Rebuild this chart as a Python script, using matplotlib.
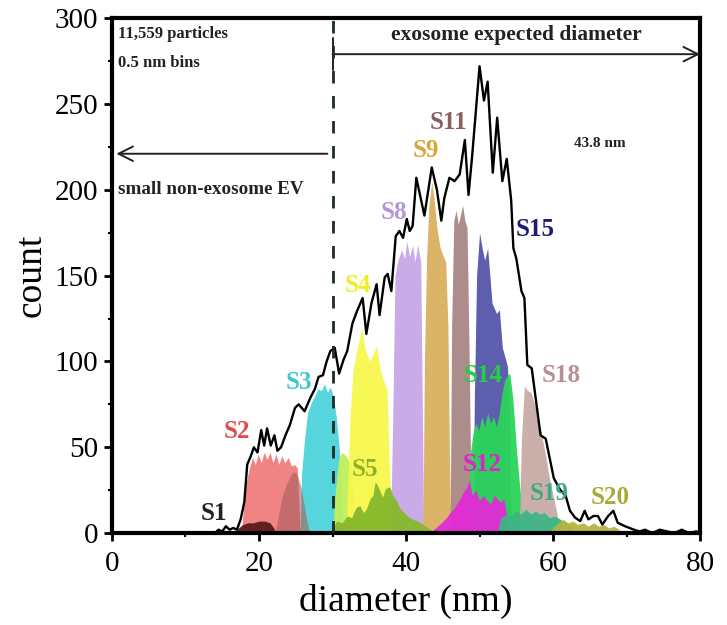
import matplotlib
matplotlib.use("Agg")
import matplotlib.pyplot as plt

plt.rcParams['font.family'] = ['Liberation Serif', 'DejaVu Serif']

# total histogram outline (diameter nm, count)
outline_d = [14.0, 14.5, 15.0, 15.5, 16.0, 16.5, 17.0, 17.5, 18.0, 18.4, 18.9, 19.3, 19.8,
             20.3, 20.7, 21.1, 21.6, 22.1, 22.5, 23.0, 23.6, 24.2, 24.9, 25.4, 26.2, 27.0,
             27.6, 28.1, 28.7, 29.2, 29.7, 30.3, 30.9, 31.5, 32.0, 32.7, 33.3, 34.1, 34.6,
             35.3, 36.0, 36.4, 37.1, 37.5, 38.0, 38.6, 39.1, 39.6, 40.1, 40.5, 40.9, 41.4,
             42.1, 42.5, 43.5, 44.2, 44.8, 45.2, 45.9, 46.6, 47.3, 48.0, 48.5, 49.0, 50.0,
             50.6, 51.1, 51.8, 52.4, 53.1, 53.7, 54.3, 54.6, 55.0, 55.7, 56.1, 56.5, 57.1,
             58.3, 59.0, 60.1, 61.0, 61.7, 62.3, 63.0, 63.7, 64.3, 64.8, 65.5, 66.1, 66.7,
             67.5, 68.2, 68.8, 69.8, 70.4, 71.0, 71.8, 72.5, 73.5, 74.5, 75.5, 76.5, 77.5,
             78.5, 79.5, 80.0]
outline_n = [0, 2, 1, 4, 2, 3, 2, 8, 18, 40, 45, 50, 47,
             60, 51, 61, 51, 57, 48, 50, 57, 63, 73, 75, 71, 79,
             84, 91, 92, 100, 106, 108, 93, 101, 106, 122, 129, 137, 116,
             134, 145, 127, 149, 151, 141, 173, 176, 172, 183, 176, 179, 207,
             193, 185, 213, 200, 182, 195, 207, 205, 209, 229, 197, 220, 272,
             252, 263, 210, 242, 205, 218, 194, 166, 160, 141, 137, 98, 96,
             57, 55, 32, 25, 22, 13, 9, 7, 13, 8, 10, 10, 5,
             10, 13, 6, 4, 3, 2, 1, 2, 0, 2, 1, 0, 2,
             0, 1, 0]

# sub-populations
s1_d = [16.7, 17.2, 17.8, 18.5, 19.2, 20.0, 20.8, 21.5, 22.0, 22.3]
s1_n = [0, 3, 5, 6, 6, 7, 7, 6, 3, 0]

s2_d = [17.6, 17.9, 18.3, 18.7, 19.1, 19.5, 19.9, 20.3, 20.7, 21.1, 21.5, 21.9, 22.3,
        22.7, 23.1, 23.5, 24.0, 24.4, 24.8, 25.2, 25.4, 25.6]
s2_n = [0, 15, 30, 38, 44, 40, 46, 41, 47, 43, 47, 41, 46,
        40, 45, 41, 44, 39, 40, 38, 20, 0]

rose_d = [22.2, 22.7, 23.2, 23.7, 24.2, 24.7, 25.2, 25.7, 26.2, 26.6, 26.9]
rose_n = [0, 12, 22, 28, 33, 36, 34, 27, 15, 5, 0]

s3_d = [25.6, 25.8, 26.2, 26.6, 27.2, 27.6, 28.0, 28.5, 28.9, 29.3, 29.7, 30.1, 30.5,
        30.9, 31.2, 31.5]
s3_n = [0, 35, 55, 70, 77, 80, 84, 83, 87, 82, 85, 80, 68, 50, 25, 0]

lgreen_d = [30.0, 30.4, 30.8, 31.2, 31.6, 32.0, 32.4, 32.8, 33.1]
lgreen_n = [0, 25, 42, 47, 46, 44, 40, 25, 0]

s4_d = [31.8, 32.1, 32.4, 32.8, 33.2, 33.6, 34.0, 34.4, 35.0, 35.5, 36.0, 36.5, 37.0,
        37.4, 37.7, 38.0]
s4_n = [0, 30, 70, 95, 104, 112, 119, 108, 100, 104, 109, 95, 88, 84, 45, 0]

s5_d = [29.5, 30.0, 30.6, 31.3, 32.0, 32.6, 33.2, 33.7, 34.2, 34.6, 35.1, 35.5, 35.8,
        36.1, 36.5, 36.8, 37.2, 37.8, 38.2, 38.7, 39.1, 39.5, 40.2, 40.9, 41.6, 42.3,
        43.0, 44.0]
s5_n = [0, 3, 7, 6, 10, 9, 15, 16, 12, 14, 20, 22, 30,
        28, 24, 21, 26, 27, 22, 19, 15, 13, 10, 8, 7, 5,
        3, 0]

s8_d = [37.9, 38.2, 38.5, 38.9, 39.4, 39.8, 40.1, 40.5, 40.9, 41.2, 41.6, 42.0, 42.2, 42.4]
s8_n = [0, 70, 150, 159, 165, 160, 170, 161, 168, 158, 168, 158, 80, 0]

s9_d = [42.3, 42.5, 42.8, 43.1, 43.5, 43.8, 44.2, 44.6, 45.0, 45.4, 45.7, 45.9, 46.1]
s9_n = [0, 100, 160, 190, 205, 195, 178, 167, 162, 158, 120, 50, 0]

s11_d = [46.0, 46.2, 46.5, 46.8, 47.1, 47.4, 47.7, 48.0, 48.3, 48.6, 48.9]
s11_n = [0, 120, 182, 188, 180, 185, 191, 182, 178, 100, 0]

s12_d = [43.2, 44.0, 44.8, 45.5, 46.0, 46.5, 47.0, 47.4, 47.8, 48.2, 48.6, 49.0, 49.5,
         50.0, 50.5, 51.0, 51.5, 52.0, 52.4, 52.8, 53.3, 53.7, 54.0]
s12_n = [0, 3, 6, 9, 12, 14, 18, 20, 24, 26, 31, 22, 25,
         19, 22, 19, 17, 22, 20, 18, 20, 10, 0]

s14_d = [48.4, 48.7, 49.1, 49.5, 49.9, 50.3, 50.7, 51.1, 51.5, 51.9, 52.3, 52.7, 53.0,
         53.4, 53.8, 54.1, 54.5, 55.0, 55.4, 55.8, 56.2]
s14_n = [0, 45, 58, 64, 60, 68, 62, 70, 64, 68, 62, 70, 80,
         89, 92, 93, 80, 50, 30, 12, 0]

s15_d = [49.1, 49.3, 49.6, 50.0, 50.4, 50.7, 51.1, 51.4, 51.7, 52.0, 52.3, 52.7, 53.1,
         53.5, 53.8, 54.1, 54.3]
s15_n = [0, 80, 150, 175, 165, 159, 166, 150, 134, 131, 128, 130, 108, 102, 97, 70, 0]

s18_d = [55.4, 55.7, 56.1, 56.5, 57.0, 57.5, 58.0, 58.5, 59.0, 59.5, 60.0, 60.5, 61.0]
s18_n = [0, 55, 86, 83, 82, 75, 66, 56, 45, 32, 22, 12, 0]

s19_d = [52.4, 52.8, 53.5, 54.2, 55.0, 55.6, 56.3, 57.0, 57.6, 58.2, 58.8, 59.5, 60.2,
         61.0, 61.8, 62.5, 63.2]
s19_n = [0, 8, 11, 10, 13, 11, 14, 11, 13, 11, 12, 9, 10, 8, 6, 3, 0]

s20_d = [59.5, 60.0, 60.7, 61.4, 62.0, 62.7, 63.4, 64.1, 64.8, 65.5, 66.2, 66.9, 67.6,
         68.3, 69.0, 69.8]
s20_n = [0, 3, 6, 8, 6, 7, 5, 6, 4, 6, 4, 5, 3, 4, 2, 0]

# drawing order: tall peaks first, low broad ones on top
fills = [
    (s2_d, s2_n, '#f07c7c', 0.95),
    (s3_d, s3_n, '#4dd3db', 0.95),
    (rose_d, rose_n, '#a85e5e', 0.6),
    (s1_d, s1_n, '#5a1c1c', 0.95),
    (lgreen_d, lgreen_n, '#bff05c', 0.95),
    (s4_d, s4_n, '#f7f74c', 0.95),
    (s8_d, s8_n, '#c5a7e6', 0.95),
    (s9_d, s9_n, '#d9b060', 0.95),
    (s11_d, s11_n, '#a98686', 0.95),
    (s15_d, s15_n, '#5555aa', 0.95),
    (s14_d, s14_n, '#2bd45a', 0.95),
    (s18_d, s18_n, '#c9aba6', 0.95),
    (s5_d, s5_n, '#86b82c', 0.95),
    (s12_d, s12_n, '#e22ad6', 0.95),
    (s19_d, s19_n, '#3eb587', 0.95),
    (s20_d, s20_n, '#b5b43e', 0.95),
]

labels = ['S1', 'S2', 'S3', 'S4', 'S5', 'S8', 'S9', 'S11', 'S12', 'S14', 'S15', 'S18', 'S19', 'S20']
label_x = [13.8, 17.0, 25.4, 33.5, 34.4, 38.3, 42.7, 45.8, 50.3, 50.5, 57.6, 61.1, 59.4, 67.8]
label_y = [11.5, 59, 88, 144, 37, 187, 223, 239, 40, 92, 177, 92, 23, 21]
label_c = ['#222222', '#e34b4b', '#3cc9cc', '#eeee22', '#8db22a', '#b793d9', '#d4a838',
           '#8a5f5f', '#e020c8', '#22d044', '#1c1c78', '#b99090', '#3eaa80', '#a9a935']

fig = plt.figure(figsize=(7.27, 6.25), dpi=100)
ax = fig.add_axes([0.154, 0.147, 0.809, 0.824])

for d, n, c, a in fills:
    ax.fill_between(d, n, 0, color=c, alpha=a, lw=0, zorder=2)

ax.plot(outline_d, outline_n, color='black', lw=1.7, zorder=10)

# 30 nm boundary
ax.axvline(30, ymin=0, ymax=1, color='#1d2b2b', lw=2, dashes=(4.5, 4.5), zorder=11)

for t, x, y, c in zip(labels, label_x, label_y, label_c):
    ax.text(x, y, t, color=c, fontsize=18, fontweight='bold', ha='center', va='center', zorder=12)

ax.annotate('', xy=(80, 279), xytext=(30, 279),
            arrowprops=dict(arrowstyle=']->, widthA=0.45, lengthA=0', lw=1.4, color='#222222',
                            shrinkA=0, shrinkB=0, mutation_scale=26))
ax.text(55.0, 290, 'exosome expected diameter', fontsize=15.5, fontweight='bold',
        ha='center', va='center', color='#222222')

ax.annotate('', xy=(0.6, 221), xytext=(29.3, 221),
            arrowprops=dict(arrowstyle='->', lw=1.4, color='#222222',
                            shrinkA=0, shrinkB=0, mutation_scale=26))
ax.text(0.8, 200, 'small non-exosome EV', fontsize=13.7, fontweight='bold',
        ha='left', va='center', color='#222222')

ax.text(0.8, 291, '11,559 particles', fontsize=12, fontweight='bold', ha='left', va='center', color='#222222')
ax.text(0.8, 274, '0.5 nm bins', fontsize=12, fontweight='bold', ha='left', va='center', color='#222222')
ax.text(66.3, 227, '43.8 nm', fontsize=11, fontweight='bold', ha='center', va='center', color='#222222')

ax.set_xlim(0, 80)
ax.set_ylim(0, 300)
ax.set_xticks([0, 20, 40, 60, 80])
ax.set_yticks([0, 50, 100, 150, 200, 250, 300])
ax.set_xticks([10, 30, 50, 70], minor=True)
ax.set_yticks([25, 75, 125, 175, 225, 275], minor=True)
ax.tick_params(which='major', direction='out', length=6, width=2, labelsize=21, pad=4)
ax.tick_params(axis='x', which='major', pad=7)
ax.tick_params(which='minor', direction='out', length=3, width=1.5)
for s in ax.spines.values():
    s.set_linewidth(3)

ax.set_xlabel('diameter (nm)', fontsize=27, labelpad=5)
ax.set_ylabel('count', fontsize=27, labelpad=4)

fig.savefig('out.png', dpi=100)
